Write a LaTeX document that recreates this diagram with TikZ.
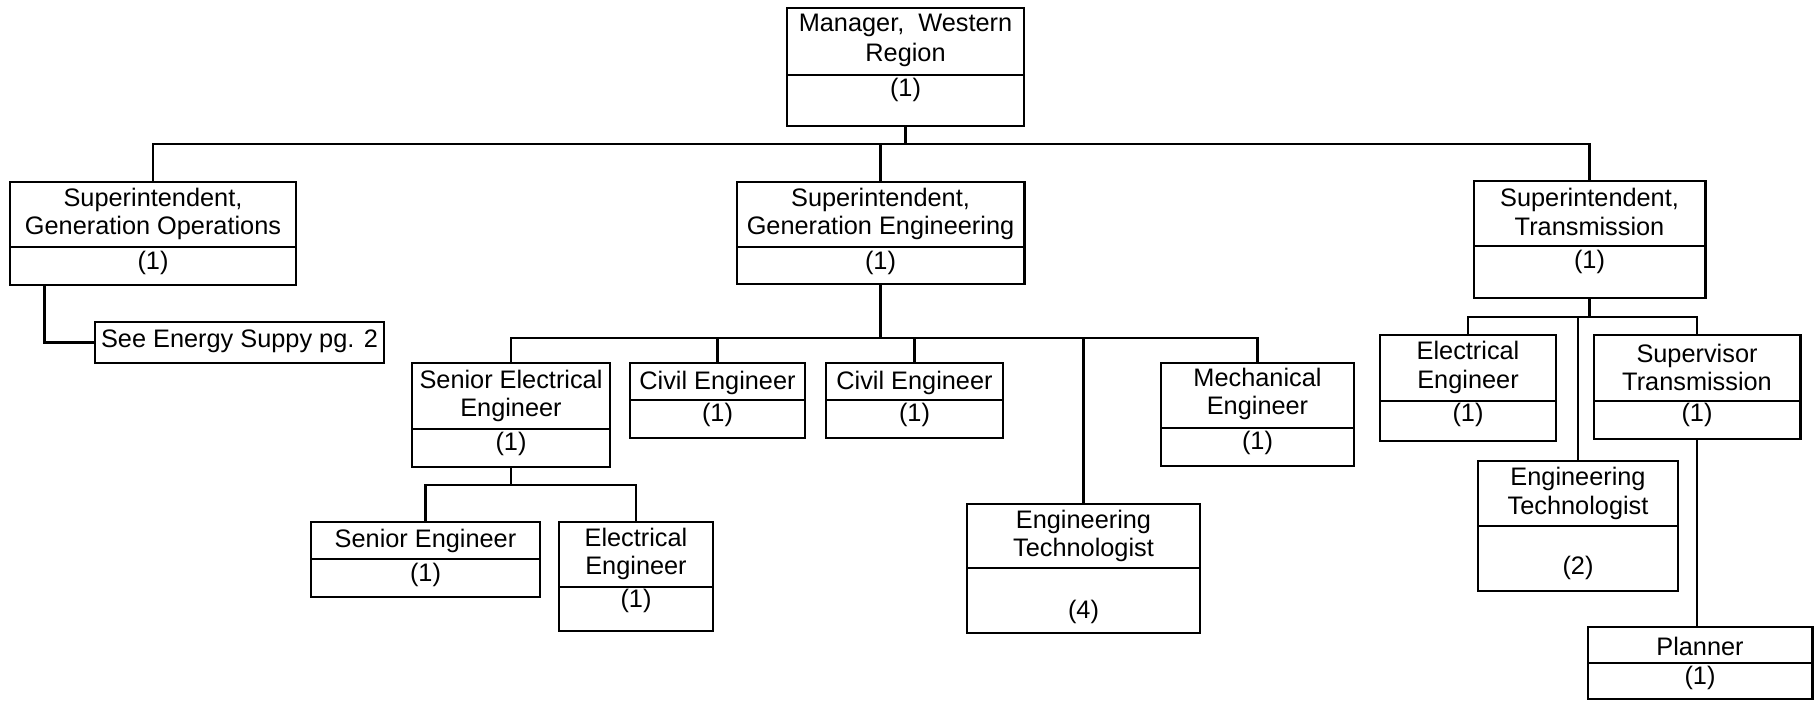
\documentclass[tikz,border=0pt]{standalone}
\usepackage{fontspec}
\setmainfont{Liberation Sans}
\usepackage{tikz}

\tikzset{
    postbox/.style={draw, line width=0.8pt, inner sep=0pt},
    jobtitle/.style={align=center, inner sep=0pt, font=\fontsize{7.2}{8}\selectfont},
    headcount/.style={inner sep=0pt, font=\fontsize{7.2}{8}\selectfont},
    divider/.style={line width=0.55pt},
    link/.style={line width=0.6pt}
}

\begin{document}
\begin{tikzpicture}[x=0.01cm, y=-0.01cm]
    \useasboundingbox (0,0) rectangle (1819,701);

    % Draw the manager box
    \node[postbox, minimum width=2.37cm, minimum height=1.18cm] (mgr) at (905.5,67) {};
    \node[jobtitle, font=\fontsize{7.2}{8.5}\selectfont] (mgr-t) at (905.5,40) {Manager,\ \ Western\\Region};
    \node[headcount] (mgr-n) at (905.5,90) {(1)};
    \draw[divider] (787,75) -- (1024,75);

    % Draw the superintendents
    \node[postbox, minimum width=2.86cm, minimum height=1.03cm] (ops) at (153,233.5) {};
    \node[jobtitle] (ops-t) at (153,214) {Superintendent,\\Generation Operations};
    \node[headcount] (ops-n) at (153,263) {(1)};
    \draw[divider] (10,247) -- (296,247);

    \node[postbox, minimum width=2.87cm, minimum height=1.02cm] (eng) at (880.5,233) {};
    \node[jobtitle] (eng-t) at (880.5,214) {Superintendent,\\Generation Engineering};
    \node[headcount] (eng-n) at (880.5,263) {(1)};
    \draw[divider] (737,247) -- (1024,247);

    \node[postbox, minimum width=2.31cm, minimum height=1.17cm] (trans) at (1589.5,239.5) {};
    \node[jobtitle] (trans-t) at (1589.5,212) {Superintendent,\\Transmission};
    \node[headcount] (trans-n) at (1589.5,262) {(1)};
    \draw[divider] (1474,246) -- (1705,246);

    % Draw the note box
    \node[postbox, minimum width=2.89cm, minimum height=0.41cm] (see) at (239.5,342.5) {};
    \node[jobtitle] (see-t) at (239.5,341) {See Energy Suppy pg. 2};

    % Draw the generation engineering staff
    \node[postbox, minimum width=1.98cm, minimum height=1.04cm] (sel) at (511,415) {};
    \node[jobtitle] (sel-t) at (511,396) {Senior Electrical\\Engineer};
    \node[headcount] (sel-n) at (511,444) {(1)};
    \draw[divider] (412,429) -- (610,429);

    \node[postbox, minimum width=1.75cm, minimum height=0.75cm] (civa) at (717.5,400.5) {};
    \node[jobtitle] (civa-t) at (717.5,383) {Civil Engineer};
    \node[headcount] (civa-n) at (717.5,415) {(1)};
    \draw[divider] (630,400) -- (805,400);

    \node[postbox, minimum width=1.77cm, minimum height=0.75cm] (civb) at (914.5,400.5) {};
    \node[jobtitle] (civb-t) at (914.5,383) {Civil Engineer};
    \node[headcount] (civb-n) at (914.5,415) {(1)};
    \draw[divider] (826,400) -- (1003,400);

    \node[postbox, minimum width=2.33cm, minimum height=1.29cm] (techa) at (1083.5,568.5) {};
    \node[jobtitle] (techa-t) at (1083.5,536) {Engineering\\Technologist};
    \node[headcount] (techa-n) at (1083.5,612) {(4)};
    \draw[divider] (967,568) -- (1200,568);

    \node[postbox, minimum width=1.93cm, minimum height=1.03cm] (mech) at (1257.5,414.5) {};
    \node[jobtitle] (mech-t) at (1257.5,394) {Mechanical\\Engineer};
    \node[headcount] (mech-n) at (1257.5,443) {(1)};
    \draw[divider] (1161,428) -- (1354,428);

    % Draw the senior electrical engineer's staff
    \node[postbox, minimum width=2.29cm, minimum height=0.75cm] (seng) at (425.5,559.5) {};
    \node[jobtitle] (seng-t) at (425.5,541) {Senior Engineer};
    \node[headcount] (seng-n) at (425.5,575) {(1)};
    \draw[divider] (311,559) -- (540,559);

    \node[postbox, minimum width=1.54cm, minimum height=1.09cm] (eel) at (636,576.5) {};
    \node[jobtitle] (eel-t) at (636,554) {Electrical\\Engineer};
    \node[headcount] (eel-n) at (636,601) {(1)};
    \draw[divider] (559,587) -- (713,587);

    % Draw the transmission staff
    \node[postbox, minimum width=1.76cm, minimum height=1.06cm] (eer) at (1468,388) {};
    \node[jobtitle] (eer-t) at (1468,367.5) {Electrical\\Engineer};
    \node[headcount] (eer-n) at (1468,415) {(1)};
    \draw[divider] (1380,401) -- (1556,401);

    \node[postbox, minimum width=2.06cm, minimum height=1.04cm] (sup) at (1697,387) {};
    \node[jobtitle] (sup-t) at (1697,367.5) {Supervisor\\Transmission};
    \node[headcount] (sup-n) at (1697,415) {(1)};
    \draw[divider] (1594,401) -- (1800,401);

    \node[postbox, minimum width=2.00cm, minimum height=1.30cm] (techb) at (1578,526) {};
    \node[jobtitle] (techb-t) at (1578,493.5) {Engineering\\Technologist};
    \node[headcount] (techb-n) at (1578,568) {(2)};
    \draw[divider] (1478,526) -- (1678,526);

    \node[postbox, minimum width=2.24cm, minimum height=0.72cm] (plan) at (1700,663) {};
    \node[jobtitle] (plan-t) at (1700,646) {Planner};
    \node[headcount] (plan-n) at (1700,678) {(1)};
    \draw[divider] (1588,663) -- (1812,663);

    % Draw the bus levels
    \coordinate (busa) at (0,144);
    \coordinate (busb) at (0,338);
    \coordinate (busc) at (0,485);
    \coordinate (busd) at (0,317);

    % Draw the connectors
    \draw[link] (mgr.south) -- (mgr.south |- busa);
    \draw[link] (ops.north) -- (ops.north |- busa) -- (trans.north |- busa) -- (trans.north);
    \draw[link] (eng.north) -- (eng.north |- busa);
    \draw[link] ([xshift=0.36cm]ops.south west) |- (see.west);

    \draw[link] (eng.south) -- (eng.south |- busb);
    \draw[link] (sel.north) -- (sel.north |- busb) -- (mech.north |- busb) -- (mech.north);
    \foreach \n in {civa, civb, techa}
        \draw[link] (\n.north) -- (\n.north |- busb);

    \draw[link] (sel.south) -- (sel.south |- busc);
    \draw[link] (seng.north) -- (seng.north |- busc) -- (eel.north |- busc) -- (eel.north);

    \draw[link] (trans.south) -- (trans.south |- busd);
    \draw[link] (eer.north) -- (eer.north |- busd) -- (sup.north |- busd) -- (sup.north);
    \draw[link] (techb.north) -- (techb.north |- busd);
    \draw[link] (sup.south) -- (sup.south |- plan.north);
\end{tikzpicture}
\end{document}
